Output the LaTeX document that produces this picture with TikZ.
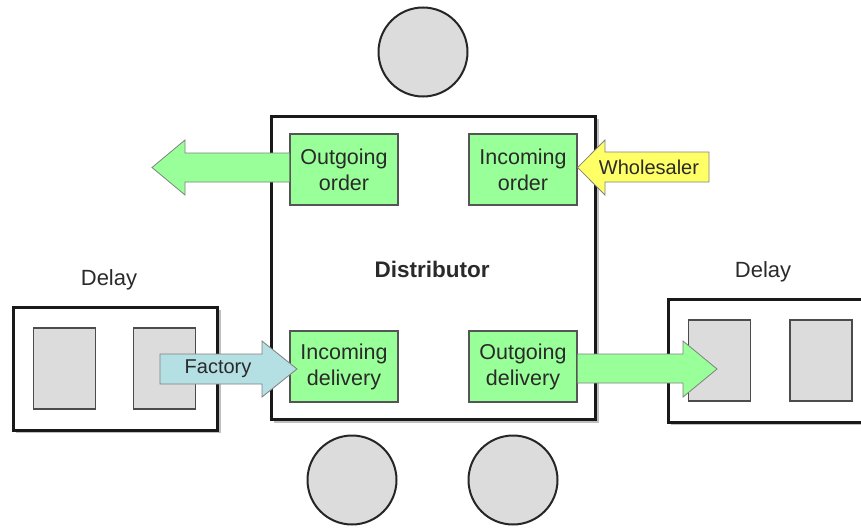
\documentclass[tikz,border=0pt]{standalone}
\usepackage{fontspec}
\setmainfont{Liberation Sans}
\definecolor{boxgreen}{HTML}{99FF99}
\definecolor{arrowyellow}{HTML}{FFFF66}
\definecolor{arrowblue}{HTML}{B4DFE3}
\definecolor{cellgray}{HTML}{DCDCDC}
\definecolor{txt}{HTML}{2A2A2A}
\definecolor{edgegray}{HTML}{555555}
\begin{document}
\begin{tikzpicture}[x=1pt,y=-1pt,
  gbox/.style={draw=edgegray,line width=1.2pt,fill=boxgreen,minimum width=108pt,minimum height=71pt,inner sep=0pt,align=center,text=txt,font=\fontsize{21.5}{26}\selectfont},
  ring/.style={circle,draw=black!85,line width=2pt,fill=cellgray,minimum size=89pt,inner sep=0pt},
  frame/.style={draw=black!90,line width=3pt,fill=white},
  cell/.style={draw=black!70,line width=1.2pt,fill=cellgray,minimum width=62pt,minimum height=81pt,inner sep=0pt},
  blockarrow/.style={draw=black!50,line width=0.8pt},
  lbl/.style={text=txt,font=\fontsize{22}{26}\selectfont,inner sep=0pt}
]
\useasboundingbox (0,0) rectangle (861,527);
\clip (0,0) rectangle (861,527);
% circles
\node[ring] (ct) at (423,52) {};
\node[ring] (cb1) at (352,480) {};
\node[ring] (cb2) at (513,480) {};
% distributor
\draw[black!25,line width=2pt] (274,421.5) -- (597.5,421.5) -- (597.5,119);
\node[frame,minimum width=324pt,minimum height=303pt,inner sep=0pt] (dist) at (433,267.5) {};
\node[lbl,font=\bfseries\fontsize{22.5}{26}\selectfont] (dlab) at (432,269) {Distributor};
% delay boxes
\draw[black!25,line width=2pt] (16,432) -- (219.5,432) -- (219.5,310);
\node[frame,minimum width=204pt,minimum height=123pt,inner sep=0pt] (dl) at (115,368.5) {};
\node[cell] (dl1) at (64.5,368.5) {};
\node[cell] (dl2) at (164.5,368.5) {};
\node[lbl] (dllab) at (109,280) {Delay};
\draw[black!25,line width=2pt] (671,424) -- (870,424);
\node[frame,minimum width=230pt,minimum height=123pt,inner sep=0pt] (dr) at (783,360.5) {};
\node[cell] (dr1) at (719.5,360.5) {};
\node[cell] (dr2) at (821,360.5) {};
\node[lbl] (drlab) at (763,272) {Delay};
% green boxes
\node[gbox] (og) at (344,169.5) {Outgoing\\order};
\node[gbox] (io) at (523,169.5) {Incoming\\order};
\node[gbox] (id) at (344,366.5) {Incoming\\delivery};
\node[gbox] (od) at (523,366.5) {Outgoing\\delivery};
% block arrows
\draw[blockarrow,fill=boxgreen] (og.west |- 0,153) -- (185,153) -- (185,140) -- (152,167.5) -- (185,195) -- (185,182) -- (og.west |- 0,182);
\draw[blockarrow,fill=arrowyellow] (709,152) -- (605,152) -- (605,140) -- (io.east |- 0,167.5) -- (605,195) -- (605,182) -- (709,182) -- cycle;
\node[lbl,font=\fontsize{20}{24}\selectfont] (wl) at (649,167.5) {Wholesaler};
\draw[blockarrow,fill=arrowblue] (160,354) -- (262,354) -- (262,341) -- (297,369) -- (262,397) -- (262,384) -- (160,384) -- cycle;
\node[lbl,font=\fontsize{20}{24}\selectfont] (fl) at (218,369) {Factory};
\draw[blockarrow,fill=boxgreen] (od.east |- 0,354) -- (683,354) -- (683,341) -- (717,369) -- (683,397) -- (683,383) -- (od.east |- 0,383);
\end{tikzpicture}
\end{document}
